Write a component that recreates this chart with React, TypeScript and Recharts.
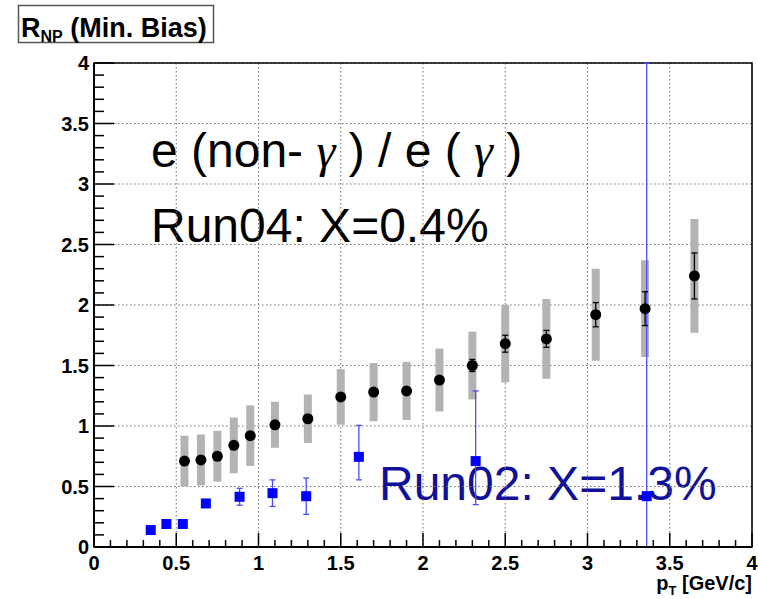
import React from 'react';
import { ScatterChart, Scatter, XAxis, YAxis, CartesianGrid, ErrorBar, ReferenceArea } from 'recharts';

// Run04: black points, stat. errors in black, systematic band in grey
const run04Pt = [0.55, 0.65, 0.75, 0.85, 0.95, 1.1, 1.3, 1.5, 1.7, 1.9, 2.1, 2.3, 2.5, 2.75, 3.05, 3.35, 3.65];
const run04Rnp = [0.71, 0.72, 0.75, 0.84, 0.92, 1.01, 1.06, 1.24, 1.28, 1.29, 1.38, 1.5, 1.68, 1.72, 1.92, 1.97, 2.24];
const run04Stat = [0, 0, 0, 0, 0, 0, 0, 0, 0, 0, 0.02, 0.05, 0.07, 0.07, 0.1, 0.14, 0.19];
const run04Sys = [0.21, 0.21, 0.21, 0.23, 0.25, 0.19, 0.2, 0.23, 0.24, 0.24, 0.26, 0.28, 0.32, 0.33, 0.38, 0.4, 0.47];

// Run02: blue squares, [low, high] errors (last one runs off both ends of the frame)
const run02Pt = [0.345, 0.44, 0.54, 0.68, 0.885, 1.085, 1.29, 1.61, 2.32, 3.36];
const run02Rnp = [0.14, 0.19, 0.19, 0.36, 0.415, 0.445, 0.42, 0.745, 0.71, 0.42];
const run02Err = [[0, 0], [0, 0], [0, 0], [0.02, 0.02], [0.07, 0.07], [0.11, 0.11], [0.15, 0.15], [0.19, 0.26], [0.36, 0.58], [0.42, 3.58]];

const majorTicks = [0, 0.5, 1, 1.5, 2, 2.5, 3, 3.5, 4];
const allTicks = [
  0, 0.1, 0.2, 0.3, 0.4, 0.5, 0.6, 0.7, 0.8, 0.9,
  1, 1.1, 1.2, 1.3, 1.4, 1.5, 1.6, 1.7, 1.8, 1.9,
  2, 2.1, 2.2, 2.3, 2.4, 2.5, 2.6, 2.7, 2.8, 2.9,
  3, 3.1, 3.2, 3.3, 3.4, 3.5, 3.6, 3.7, 3.8, 3.9, 4,
];

const run04 = run04Pt.map((x, i) => ({ x, y: run04Rnp[i], stat: run04Stat[i], sys: run04Sys[i] }));
const run02 = run02Pt.map((x, i) => ({ x, y: run02Rnp[i], err: run02Err[i] }));

const FONT = "'Liberation Sans', Arial, Helvetica, sans-serif";
const isMajor = (v: number) => Math.abs(v * 2 - Math.round(v * 2)) < 1e-6;

// ROOT style: ticks point into the frame, labels only on the half-units
function XTick({ x, y, payload }: any) {
  const v = payload.value;
  const major = isMajor(v);
  return (
    <g>
      <line x1={x} x2={x} y1={y} y2={y - (major ? 14 : 7)} stroke="#000" strokeWidth={1.5} />
      {major && (
        <text x={x} y={y + 23} textAnchor="middle" fontSize={20} fontWeight="bold" fontFamily={FONT} fill="#000">
          {String(v)}
        </text>
      )}
    </g>
  );
}

function YTick({ x, y, payload }: any) {
  const v = payload.value;
  const major = isMajor(v);
  return (
    <g>
      <line x1={x} x2={x + (major ? 20 : 10)} y1={y} y2={y} stroke="#000" strokeWidth={1.5} />
      {major && (
        <text x={x - 5} y={y + 7} textAnchor="end" fontSize={20} fontWeight="bold" fontFamily={FONT} fill="#000">
          {String(v)}
        </text>
      )}
    </g>
  );
}

const Dot = (p: any) => <circle cx={p.cx} cy={p.cy} r={5.5} fill="#000" />;
const Square = (p: any) => <rect x={p.cx - 5} y={p.cy - 5} width={10} height={10} fill="#0000ff" />;
const Nothing = () => <g />;

export default function App() {
  return (
    <div style={{ position: 'relative', width: 758, height: 599, background: '#fff', fontFamily: FONT }}>
      <style>{'body{margin:0}'}</style>
      <svg width={758} height={599} style={{ position: 'absolute', left: 0, top: 0 }}>
        <rect x={18.5} y={5.5} width={195} height={37} fill="#fff" stroke="#555" strokeWidth={1.5} />
        <text x={21} y={37} fontFamily={FONT} fontWeight="bold" fontSize={27} fill="#000">
          R<tspan fontSize={16} dy={5}>NP</tspan>
          <tspan dy={-5} style={{ whiteSpace: 'pre' }}> (Min. Bias)</tspan>
        </text>
        <text x={151} y={167} fontFamily={FONT} fontSize={48} fill="#000" style={{ whiteSpace: 'pre' }}>
          {'e (non- '}
          <tspan fontFamily="'Liberation Serif', serif" fontStyle="italic">γ</tspan>
          {' ) / e ( '}
          <tspan fontFamily="'Liberation Serif', serif" fontStyle="italic">γ</tspan>
          {' )'}
        </text>
        <text x={151} y={242} fontFamily={FONT} fontSize={48} fill="#000">Run04: X=0.4%</text>
        <text x={379} y={500} fontFamily={FONT} fontSize={48} fill="#10109a">Run02: X=1.3%</text>
        <text x={752} y={590} textAnchor="end" fontFamily={FONT} fontWeight="bold" fontSize={20} fill="#000">
          p<tspan fontSize={13} dy={5}>T</tspan>
          <tspan dy={-5} style={{ whiteSpace: 'pre' }}> [GeV/c]</tspan>
        </text>
      </svg>
      <ScatterChart width={758} height={599} margin={{ top: 63, right: 6, bottom: 0, left: 0 }} style={{ position: 'relative' }}>
        <CartesianGrid horizontalValues={majorTicks} verticalValues={majorTicks} stroke="#6e6e6e" strokeDasharray="1.5 2.5" />
        <XAxis
          type="number"
          dataKey="x"
          domain={[0, 4]}
          ticks={allTicks}
          interval={0}
          tick={<XTick />}
          tickLine={false}
          tickSize={0}
          tickMargin={0}
          height={52}
          axisLine={{ stroke: '#000', strokeWidth: 2 }}
        />
        <YAxis
          type="number"
          dataKey="y"
          domain={[0, 4]}
          ticks={allTicks}
          interval={0}
          tick={<YTick />}
          tickLine={false}
          tickSize={0}
          tickMargin={0}
          width={94}
          axisLine={{ stroke: '#000', strokeWidth: 2 }}
        />
        <ReferenceArea x1={0} x2={4} y1={0} y2={4} fill="none" stroke="#000" strokeWidth={1.5} ifOverflow="visible" />
        <Scatter data={run04} shape={Nothing} isAnimationActive={false}>
          <ErrorBar dataKey="sys" direction="y" width={0} stroke="#b3b3b3" strokeWidth={8} isAnimationActive={false} />
        </Scatter>
        <Scatter data={run02} shape={Square} isAnimationActive={false}>
          <ErrorBar dataKey="err" direction="y" width={3} stroke="#4b4bff" strokeWidth={1.3} isAnimationActive={false} />
        </Scatter>
        <Scatter data={run04} shape={Dot} isAnimationActive={false}>
          <ErrorBar dataKey="stat" direction="y" width={3} stroke="#000" strokeWidth={1.3} isAnimationActive={false} />
        </Scatter>
      </ScatterChart>
    </div>
  );
}
